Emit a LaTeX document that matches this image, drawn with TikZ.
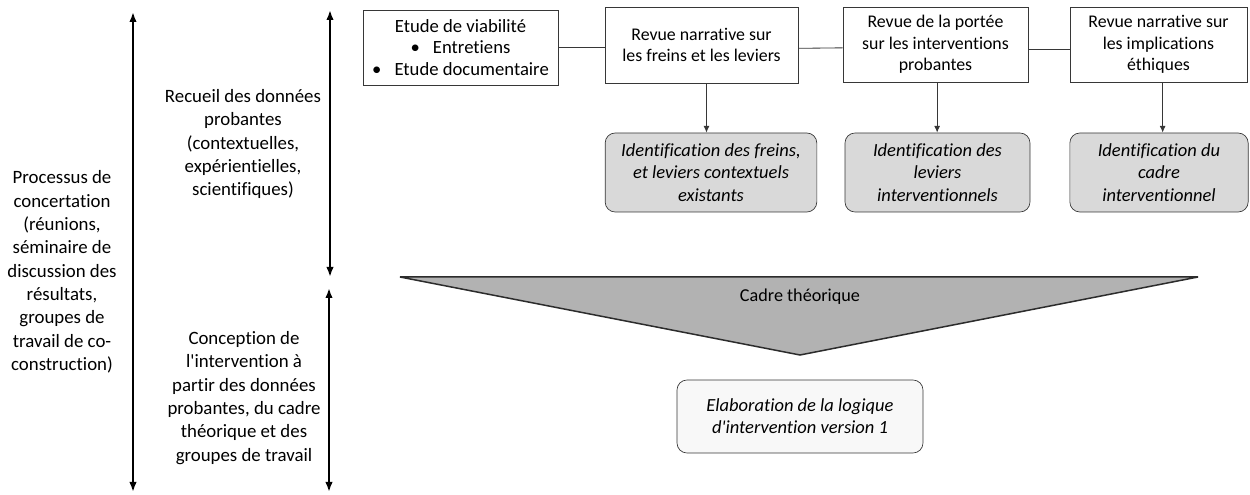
\documentclass[tikz,border=0pt]{standalone}
\usepackage{fontspec}
\setmainfont{Carlito}[Ligatures=NoCommon]
\usetikzlibrary{positioning,arrows.meta}
\definecolor{idgray}{RGB}{217,217,217}
\definecolor{cadregray}{RGB}{178,178,178}
\definecolor{elabgray}{RGB}{248,248,248}
\definecolor{edgegray}{RGB}{55,55,55}

\begin{document}
\begin{tikzpicture}[x=0.6pt,y=-0.6pt,
  revbox/.style={draw=edgegray,fill=white,align=center,inner sep=1pt,
    font=\fontsize{10.7}{13}\selectfont},
  idbox/.style={draw=edgegray,fill=idgray,rounded corners=6pt,align=center,inner sep=1pt,
    font=\fontsize{11.1}{13.3}\selectfont\itshape},
  phase/.style={align=center,font=\fontsize{11.3}{14}\selectfont},
  bigarrow/.style={line width=1.3pt,{Latex[length=6pt,width=4.5pt]}-{Latex[length=6pt,width=4.5pt]}},
  link/.style={draw=edgegray,line width=0.5pt},
  down/.style={link,-{Latex[length=4pt,width=3.5pt]}}]

  \useasboundingbox (0,0) rectangle (1250,495);

  % phases on the left
  \node[phase] (concert) at (62,272) {Processus de\\concertation\\(réunions,\\séminaire de\\discussion des\\résultats,\\groupes de\\travail de co-\\construction)};
  \node[phase] (recueil) at (243,144) {Recueil des données\\probantes\\(contextuelles,\\expérientielles,\\scientifiques)};
  \node[phase] (conception) at (244,398) {Conception de\\l\textquotesingle intervention à\\partir des données\\probantes, du cadre\\théorique et des\\groupes de travail};

  \coordinate (ctop) at (133,12);
  \coordinate (cbot) at (133,492);
  \coordinate (rtop) at (330,10);
  \coordinate (rbot) at (330,277);
  \coordinate (ptop) at (329,288);
  \coordinate (pbot) at (329,492);
  \draw[bigarrow] (ctop) -- (cbot);
  \draw[bigarrow] (rtop) -- (rbot);
  \draw[bigarrow] (ptop) -- (pbot);

  % sources
  \node[revbox,font=\fontsize{11.2}{13}\selectfont,minimum width=117pt,minimum height=45pt] (viab) at (460.5,47.5)
    {Etude de viabilité\\\textbullet\hspace{0.7em}Entretiens\\\textbullet\hspace{0.7em}Etude documentaire};
  \node[revbox,minimum width=115.8pt,minimum height=45.6pt] (freins) at (701.5,45)
    {Revue narrative sur\\les freins et les leviers};
  \node[revbox,minimum width=111pt,minimum height=45pt] (portee) at (935.5,44.5)
    {Revue de la portée\\sur les interventions\\probantes};
  \node[revbox,minimum width=106pt,minimum height=45pt] (ethique) at (1158.5,44.5)
    {Revue narrative sur\\les implications\\éthiques};

  \draw[link] (viab.east) -- (freins.west |- viab.east);
  \draw[link] ([yshift=-2pt]freins.east) -- ([yshift=-2pt]portee.west);
  \draw[link] ([yshift=-3pt]portee.east) -- ([yshift=-3pt]ethique.west);

  % results
  \node[idbox,minimum width=127pt,minimum height=47.4pt] (idfreins) at (711,172.5)
    {Identification des freins,\\et leviers contextuels\\existants};
  \node[idbox,minimum width=111pt,minimum height=47.4pt] (idleviers) at (937.5,172.5)
    {Identification des\\leviers\\interventionnels};
  \node[idbox,minimum width=107pt,minimum height=47.4pt] (idcadre) at (1159,172.5)
    {Identification du\\cadre\\interventionnel};

  \draw[down] ([xshift=3pt]freins.south) -- ([xshift=3pt]freins.south |- idfreins.north);
  \draw[down] ([xshift=1pt]portee.south) -- ([xshift=1pt]portee.south |- idleviers.north);
  \draw[down] ([xshift=2.5pt]ethique.south) -- ([xshift=2.5pt]ethique.south |- idcadre.north);

  % theoretical frame
  \coordinate (cleft) at (400,277);
  \coordinate (cright) at (1198,277);
  \coordinate (capex) at (800,355);
  \filldraw[draw=edgegray!80!black,line width=0.9pt,fill=cadregray] (cleft) -- (cright) -- (capex) -- cycle;
  \node[font=\fontsize{10.9}{13}\selectfont] (cadre) at (800,297) {Cadre théorique};

  \node[idbox,fill=elabgray,minimum width=147.6pt,minimum height=43.8pt] (elab) at (800,416.5)
    {Elaboration de la logique\\d\textquotesingle intervention version 1};

\end{tikzpicture}
\end{document}
